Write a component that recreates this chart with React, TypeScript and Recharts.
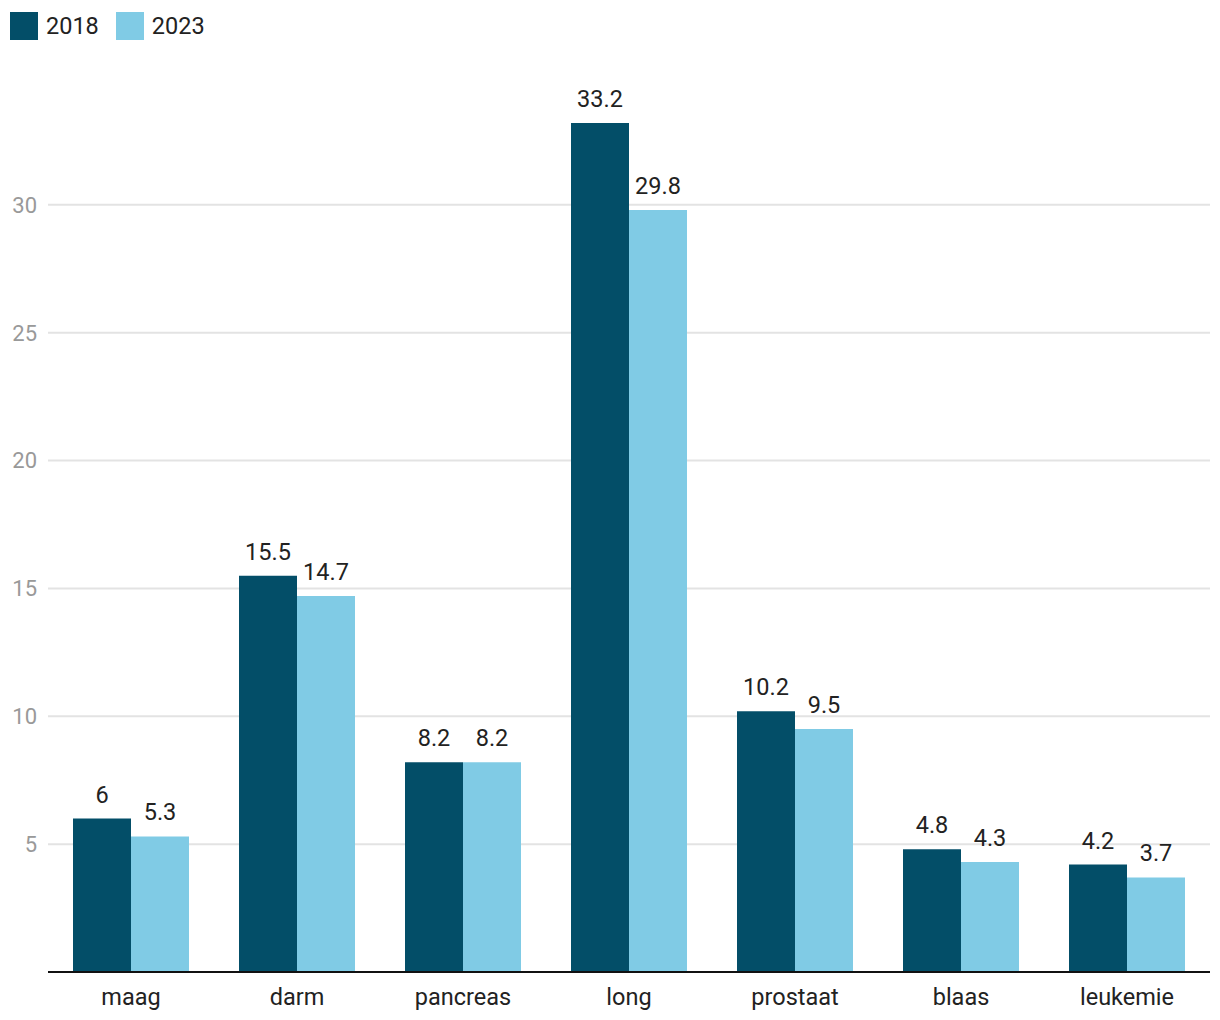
import { BarChart, Bar, XAxis, YAxis, CartesianGrid, LabelList } from 'recharts';

const categories = ['maag', 'darm', 'pancreas', 'long', 'prostaat', 'blaas', 'leukemie'];
const values2018 = [6, 15.5, 8.2, 33.2, 10.2, 4.8, 4.2];
const values2023 = [5.3, 14.7, 8.2, 29.8, 9.5, 4.3, 3.7];
const yTicks = [5, 10, 15, 20, 25, 30];

const DARK = '#034e68';
const LIGHT = '#80cbe5';
const FONT = 'Roboto, "Noto Sans", sans-serif';

const data = categories.map((name, i) => ({ name, y2018: values2018[i], y2023: values2023[i] }));

const LegendItem = ({ color, label }: { color: string; label: string }) => (
    <div style={{ display: 'flex', alignItems: 'center', marginRight: 17 }}>
        <div style={{ width: 28, height: 28, background: color, marginRight: 8 }} />
        <span style={{ fontSize: 23.5, color: '#222' }}>{label}</span>
    </div>
);

const App = () => {
    return (
        <div style={{ position: 'absolute', left: 0, top: 0, width: 1220, height: 1020, background: '#fff', fontFamily: FONT }}>
            <div style={{ position: 'absolute', left: 10, top: 12, display: 'flex' }}>
                <LegendItem color={DARK} label="2018" />
                <LegendItem color={LIGHT} label="2023" />
            </div>
            <BarChart
                width={1220}
                height={1020}
                data={data}
                margin={{ top: 77, right: 10, bottom: 18, left: 0 }}
                barGap={0}
                barCategoryGap={25}
                style={{ fontFamily: FONT }}
            >
                <CartesianGrid vertical={false} stroke="#e3e3e3" strokeWidth={2} horizontalValues={yTicks} />
                <XAxis
                    dataKey="name"
                    axisLine={{ stroke: '#111', strokeWidth: 2 }}
                    tickLine={false}
                    tick={{ fill: '#222', fontSize: 23.5 }}
                    tickMargin={10}
                />
                <YAxis
                    width={48}
                    domain={[0, 35]}
                    ticks={yTicks}
                    axisLine={false}
                    tickLine={false}
                    tick={{ fill: '#999', fontSize: 22 }}
                    tickMargin={5}
                />
                <Bar dataKey="y2018" fill={DARK} isAnimationActive={false}>
                    <LabelList dataKey="y2018" position="top" offset={16} fill="#222" fontSize={23.5} />
                </Bar>
                <Bar dataKey="y2023" fill={LIGHT} isAnimationActive={false}>
                    <LabelList dataKey="y2023" position="top" offset={16} fill="#222" fontSize={23.5} />
                </Bar>
            </BarChart>
        </div>
    );
};

export default App;
